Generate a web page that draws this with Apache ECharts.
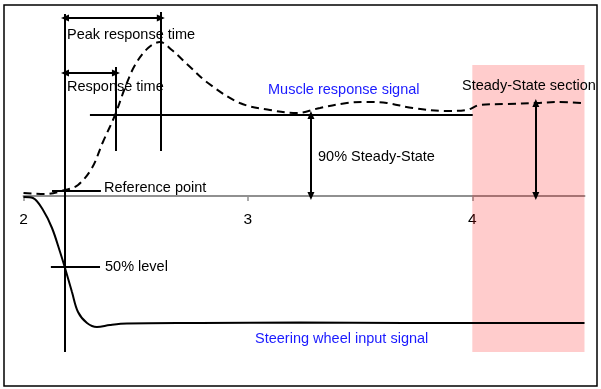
<!DOCTYPE html>
<html><head><meta charset="utf-8">
<script src="https://cdn.jsdelivr.net/npm/echarts@6/dist/echarts.min.js"></script>
<style>html,body{margin:0;padding:0;background:#fff}#c{width:601px;height:389px}</style>
</head><body><div id="c"></div>
<script>
// ---- data ----
const xTicks = [2, 3, 4];
const muscleX = [2.0, 2.096, 2.185, 2.243, 2.305, 2.354, 2.408, 2.452, 2.497, 2.555, 2.608, 2.661, 2.733, 2.822, 2.964, 3.098, 3.218, 3.321, 3.441, 3.530, 3.619, 3.735, 3.886, 3.975, 4.033, 4.154, 4.287, 4.376, 4.492];
const muscleY = [0.03, 0.02, 0.06, 0.11, 0.28, 0.54, 0.81, 1.08, 1.31, 1.48, 1.54, 1.46, 1.31, 1.13, 0.93, 0.86, 0.83, 0.88, 0.93, 0.94, 0.93, 0.88, 0.85, 0.86, 0.91, 0.92, 0.93, 0.94, 0.93];
const steerX = [2.0, 2.042, 2.087, 2.127, 2.163, 2.185, 2.216, 2.243, 2.283, 2.327, 2.385, 2.461, 2.786, 3.232, 3.7, 4.2, 4.5];
const steerY = [-0.01, -0.02, -0.14, -0.32, -0.56, -0.72, -0.96, -1.16, -1.27, -1.31, -1.29, -1.275, -1.27, -1.265, -1.27, -1.27, -1.27];
// guide segments [x1, y1, x2, y2]
const guideLines = [
  [2.185, 1.82, 2.185, -1.56],
  [2.412, 1.29, 2.412, 0.45],
  [2.612, 1.84, 2.612, 0.45],
  [2.296, 0.81, 4.002, 0.81],
  [2.127, 0.05, 2.345, 0.05],
  [2.122, -0.71, 2.341, -0.71]
];
// double-headed arrows [x1, y1, x2, y2]
const arrowLines = [
  [2.185, 1.78, 2.612, 1.78],
  [2.185, 1.23, 2.412, 1.23],
  [3.281, 0.81, 3.281, 0.0],
  [4.283, 0.93, 4.283, 0.0]
];
const steadySection = [4.0, 1.31, 4.506, -1.56];
const FONT = '"Liberation Sans", Arial, sans-serif';

const chart = echarts.init(document.getElementById('c'), null, {renderer: 'canvas'});
const txt = (text, x, y, color) => ({
  type: 'text', x: x, y: y, z: 100,
  style: {text: text, fill: color || '#000', font: '14.5px ' + FONT, align: 'left', verticalAlign: 'middle'}
});
chart.setOption({
  animation: false,
  grid: {left: 23.5, right: 16.5, top: 6, height: 380, containLabel: false, outerBoundsMode: 'none'},
  xAxis: {
    type: 'value', min: 2, max: 4.5, position: 'bottom', offset: -190,
    splitLine: {show: false},
    axisLine: {onZero: false, lineStyle: {color: '#909090', width: 2}},
    axisTick: {show: true, length: 5, customValues: xTicks, lineStyle: {color: '#909090', width: 1.5}},
    axisLabel: {customValues: xTicks, color: '#000', fontSize: 15.5, fontFamily: FONT, margin: 16}
  },
  yAxis: {type: 'value', min: -1.9, max: 1.9, show: false, splitLine: {show: false}},
  series: [
    {
      type: 'line', data: [], silent: true, z: 1,
      markArea: {
        silent: true,
        itemStyle: {color: 'rgba(255,0,0,0.2)'},
        data: [[{coord: [steadySection[0], steadySection[1]]}, {coord: [steadySection[2], steadySection[3]]}]]
      }
    },
    {
      type: 'line', silent: true, showSymbol: false, smooth: 0.35,
      data: muscleX.map((x, i) => [x, muscleY[i]]),
      lineStyle: {color: '#000', width: 2, type: [8, 5]}, z: 3
    },
    {
      type: 'line', silent: true, showSymbol: false, smooth: 0.35,
      data: steerX.map((x, i) => [x, steerY[i]]),
      lineStyle: {color: '#000', width: 2}, z: 3
    },
    {
      type: 'line', data: [], silent: true, z: 4,
      markLine: {
        silent: true, animation: false,
        label: {show: false},
        lineStyle: {color: '#000', width: 2, type: 'solid'},
        emphasis: {disabled: true},
        symbol: ['none', 'none'],
        data: guideLines.map(s => [{coord: [s[0], s[1]], symbol: 'none'}, {coord: [s[2], s[3]], symbol: 'none'}])
          .concat(arrowLines.map(s => [{coord: [s[0], s[1]], symbol: 'triangle', symbolSize: [7, 8]}, {coord: [s[2], s[3]], symbol: 'triangle', symbolSize: [7, 8]}]))
      }
    }
  ],
  graphic: [
    {type: 'rect', z: 100, shape: {x: 4, y: 5, width: 593, height: 381}, style: {fill: 'none', stroke: '#000', lineWidth: 1.5}},
    txt('Peak response time', 67, 35),
    txt('Response time', 67, 87),
    txt('Reference point', 104, 188),
    txt('50% level', 105, 267),
    txt('90% Steady-State', 318, 157),
    txt('Muscle response signal', 268, 90, '#1a1aff'),
    txt('Steady-State section', 462, 86),
    txt('Steering wheel input signal', 255, 339, '#1a1aff')
  ]
});
</script></body></html>
